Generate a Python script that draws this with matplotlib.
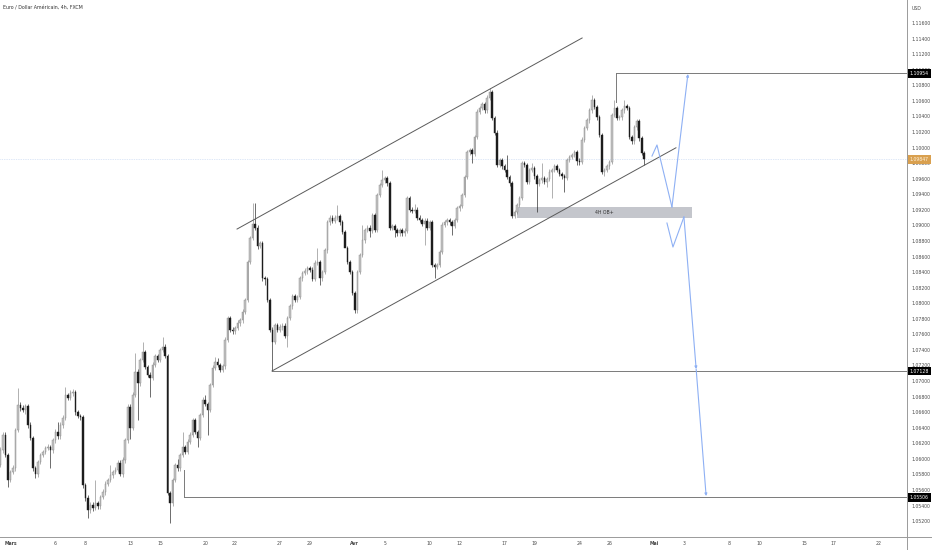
import numpy as np
import matplotlib.pyplot as plt
from matplotlib.lines import Line2D
from matplotlib.patches import Rectangle

title = "Euro / Dollar Américain, 4h, FXCM"

# 4h candles, first one opens at first_open, every next opens at previous close
first_open = 1.05921
closes = [
    1.06114, 1.06306, 1.06049, 1.05728, 1.05831, 1.05882, 1.06371, 1.06692, 1.06653, 1.06628,
    1.06679, 1.06435, 1.06268, 1.05882, 1.05805, 1.05959, 1.06049, 1.06088, 1.06139, 1.06152,
    1.06114, 1.06242, 1.06345, 1.06293, 1.06435, 1.06525, 1.06820, 1.06782, 1.06846, 1.06859,
    1.06602, 1.06550, 1.06538, 1.05664, 1.05497, 1.05343, 1.05407, 1.05368, 1.05432, 1.05394,
    1.05510, 1.05574, 1.05677, 1.05728, 1.05792, 1.05831, 1.05857, 1.05946, 1.05805, 1.05985,
    1.06242, 1.06666, 1.06396, 1.06820, 1.07116, 1.06974, 1.07270, 1.07373, 1.07180, 1.07077,
    1.07039, 1.07206, 1.07321, 1.07270, 1.07399, 1.07437, 1.07321, 1.05561, 1.05432, 1.05728,
    1.05921, 1.05882, 1.06049, 1.06152, 1.06088, 1.06216, 1.06306, 1.06499, 1.06345, 1.06268,
    1.06563, 1.06756, 1.06705, 1.06628, 1.06949, 1.07167, 1.07244, 1.07206, 1.07142, 1.07193,
    1.07527, 1.07810, 1.07656, 1.07643, 1.07681, 1.07745, 1.07784, 1.07887, 1.08041, 1.08529,
    1.08838, 1.09018, 1.08966, 1.08735, 1.08773, 1.08324, 1.08311, 1.08041, 1.07656, 1.07501,
    1.07720, 1.07656, 1.07694, 1.07707, 1.07578, 1.07810, 1.07964, 1.08092, 1.08041, 1.08079,
    1.08324, 1.08388, 1.08414, 1.08452, 1.08427, 1.08311, 1.08516, 1.08529, 1.08324, 1.08401,
    1.08684, 1.09043, 1.09095, 1.09056, 1.09095, 1.09120, 1.09043, 1.08915, 1.08709, 1.08529,
    1.08401, 1.08131, 1.07913, 1.08401, 1.08619, 1.08812, 1.08941, 1.08966, 1.08928, 1.09133,
    1.08941, 1.09390, 1.09519, 1.09583, 1.09609, 1.09544, 1.08966, 1.08992, 1.08941, 1.08902,
    1.08941, 1.08902, 1.08928, 1.09352, 1.09198, 1.09185, 1.09198, 1.09095, 1.09069, 1.09018,
    1.09056, 1.08966, 1.09043, 1.08491, 1.08465, 1.08491, 1.08658, 1.09005, 1.09043, 1.09069,
    1.09043, 1.08992, 1.09069, 1.09223, 1.09249, 1.09390, 1.09622, 1.09943, 1.09969, 1.09917,
    1.10136, 1.10457, 1.10508, 1.10560, 1.10483, 1.10637, 1.10714, 1.10380, 1.10187, 1.09776,
    1.09840, 1.09763, 1.09712, 1.09622, 1.09544, 1.09120, 1.09172, 1.09262, 1.09352, 1.09801,
    1.09776, 1.09557, 1.09712, 1.09737, 1.09634, 1.09532, 1.09583, 1.09609, 1.09557, 1.09596,
    1.09686, 1.09712, 1.09763, 1.09712, 1.09660, 1.09634, 1.09609, 1.09840, 1.09879, 1.09904,
    1.09943, 1.09827, 1.09814, 1.10097, 1.10251, 1.10354, 1.10483, 1.10611, 1.10521, 1.10393,
    1.10161, 1.09686, 1.09712, 1.09763, 1.09814, 1.10418, 1.10508, 1.10380, 1.10393, 1.10483,
    1.10534, 1.10508, 1.10136, 1.10084, 1.10264, 1.10341, 1.10123, 1.09930, 1.09847,
]
highs = [
    1.0615, 1.0634, 1.0634, 1.0608, 1.0586, 1.0592, 1.0640, 1.0691, 1.0673, 1.0669,
    1.0671, 1.0671, 1.0647, 1.0630, 1.0591, 1.0599, 1.0608, 1.0612, 1.0617, 1.0619,
    1.0618, 1.0627, 1.0638, 1.0647, 1.0647, 1.0656, 1.0692, 1.0685, 1.0688, 1.0690,
    1.0689, 1.0663, 1.0658, 1.0657, 1.0569, 1.0553, 1.0544, 1.0544, 1.0573, 1.0546,
    1.0554, 1.0561, 1.0571, 1.0576, 1.0592, 1.0586, 1.0589, 1.0598, 1.0598, 1.0602,
    1.0627, 1.0670, 1.0670, 1.0686, 1.0736, 1.0715, 1.0730, 1.0750, 1.0740, 1.0721,
    1.0711, 1.0724, 1.0735, 1.0735, 1.0743, 1.0757, 1.0747, 1.0735, 1.0559, 1.0576,
    1.0595, 1.0600, 1.0608, 1.0634, 1.0618, 1.0625, 1.0634, 1.0653, 1.0653, 1.0637,
    1.0659, 1.0679, 1.0682, 1.0673, 1.0698, 1.0720, 1.0731, 1.0729, 1.0723, 1.0722,
    1.0756, 1.0784, 1.0784, 1.0769, 1.0771, 1.0778, 1.0781, 1.0792, 1.0807, 1.0856,
    1.0887, 1.0929, 1.0929, 1.0900, 1.0880, 1.0880, 1.0835, 1.0834, 1.0807, 1.0769,
    1.0775, 1.0775, 1.0773, 1.0774, 1.0774, 1.0784, 1.0799, 1.0812, 1.0812, 1.0811,
    1.0835, 1.0842, 1.0845, 1.0848, 1.0848, 1.0846, 1.0855, 1.0871, 1.0856, 1.0843,
    1.0871, 1.0907, 1.0913, 1.0913, 1.0913, 1.0926, 1.0915, 1.0907, 1.0894, 1.0874,
    1.0856, 1.0843, 1.0816, 1.0843, 1.0865, 1.0900, 1.0897, 1.0900, 1.0900, 1.0916,
    1.0916, 1.0942, 1.0955, 1.0971, 1.0964, 1.0964, 1.0957, 1.0902, 1.0902, 1.0897,
    1.0897, 1.0897, 1.0896, 1.0938, 1.0938, 1.0923, 1.0927, 1.0923, 1.0913, 1.0910,
    1.0909, 1.0909, 1.0907, 1.0907, 1.0852, 1.0852, 1.0869, 1.0904, 1.0907, 1.0910,
    1.0910, 1.0907, 1.0910, 1.0925, 1.0928, 1.0942, 1.0965, 1.0997, 1.1000, 1.1000,
    1.1016, 1.1049, 1.1054, 1.1059, 1.1059, 1.1067, 1.1077, 1.1074, 1.1041, 1.1022,
    1.0987, 1.0987, 1.0979, 1.0990, 1.0965, 1.0957, 1.0920, 1.0929, 1.0938, 1.0983,
    1.0983, 1.0980, 1.0974, 1.0980, 1.0976, 1.0966, 1.0961, 1.0980, 1.0964, 1.0962,
    1.0972, 1.0974, 1.0979, 1.0979, 1.0974, 1.0969, 1.0966, 1.0987, 1.0991, 1.0993,
    1.0997, 1.0997, 1.0986, 1.1013, 1.1028, 1.1038, 1.1051, 1.1068, 1.1064, 1.1055,
    1.1042, 1.1019, 1.0974, 1.0979, 1.0984, 1.1045, 1.1061, 1.1054, 1.1042, 1.1051,
    1.1061, 1.1056, 1.1054, 1.1016, 1.1029, 1.1037, 1.1037, 1.1015, 1.0996,
]
lows = [
    1.0589, 1.0608, 1.0602, 1.0564, 1.0570, 1.0580, 1.0585, 1.0634, 1.0662, 1.0660,
    1.0658, 1.0640, 1.0624, 1.0585, 1.0575, 1.0577, 1.0593, 1.0602, 1.0606, 1.0611,
    1.0588, 1.0608, 1.0621, 1.0626, 1.0626, 1.0640, 1.0650, 1.0675, 1.0675, 1.0681,
    1.0657, 1.0652, 1.0650, 1.0563, 1.0546, 1.0524, 1.0531, 1.0533, 1.0534, 1.0536,
    1.0536, 1.0548, 1.0554, 1.0565, 1.0570, 1.0576, 1.0580, 1.0583, 1.0578, 1.0577,
    1.0595, 1.0621, 1.0626, 1.0637, 1.0679, 1.0650, 1.0694, 1.0724, 1.0715, 1.0705,
    1.0680, 1.0701, 1.0718, 1.0724, 1.0724, 1.0737, 1.0729, 1.0553, 1.0518, 1.0540,
    1.0570, 1.0585, 1.0585, 1.0602, 1.0606, 1.0606, 1.0619, 1.0628, 1.0632, 1.0615,
    1.0624, 1.0654, 1.0668, 1.0631, 1.0660, 1.0692, 1.0714, 1.0718, 1.0711, 1.0711,
    1.0716, 1.0750, 1.0763, 1.0761, 1.0761, 1.0765, 1.0771, 1.0775, 1.0786, 1.0801,
    1.0850, 1.0881, 1.0894, 1.0870, 1.0871, 1.0829, 1.0823, 1.0801, 1.0763, 1.0713,
    1.0747, 1.0763, 1.0763, 1.0766, 1.0755, 1.0744, 1.0778, 1.0793, 1.0801, 1.0801,
    1.0805, 1.0829, 1.0836, 1.0838, 1.0840, 1.0828, 1.0828, 1.0849, 1.0823, 1.0829,
    1.0837, 1.0865, 1.0901, 1.0903, 1.0903, 1.0907, 1.0901, 1.0889, 1.0872, 1.0850,
    1.0837, 1.0810, 1.0787, 1.0788, 1.0837, 1.0859, 1.0878, 1.0891, 1.0885, 1.0890,
    1.0891, 1.0891, 1.0936, 1.0949, 1.0955, 1.0951, 1.0894, 1.0894, 1.0885, 1.0887,
    1.0887, 1.0887, 1.0887, 1.0890, 1.0917, 1.0916, 1.0916, 1.0907, 1.0904, 1.0899,
    1.0875, 1.0894, 1.0894, 1.0846, 1.0832, 1.0844, 1.0846, 1.0863, 1.0898, 1.0901,
    1.0901, 1.0888, 1.0896, 1.0904, 1.0919, 1.0922, 1.0936, 1.0959, 1.0991, 1.0980,
    1.0989, 1.1011, 1.1043, 1.1048, 1.1045, 1.1045, 1.1061, 1.1035, 1.1016, 1.0975,
    1.0975, 1.0973, 1.0968, 1.0959, 1.0951, 1.0909, 1.0909, 1.0914, 1.0923, 1.0932,
    1.0975, 1.0953, 1.0953, 1.0968, 1.0960, 1.0917, 1.0950, 1.0955, 1.0953, 1.0949,
    1.0957, 1.0935, 1.0968, 1.0968, 1.0963, 1.0960, 1.0943, 1.0958, 1.0981, 1.0985,
    1.0988, 1.0978, 1.0978, 1.0979, 1.1007, 1.1022, 1.1032, 1.1045, 1.1049, 1.1036,
    1.1013, 1.0966, 1.0963, 1.0968, 1.0973, 1.0979, 1.1039, 1.1035, 1.1035, 1.1036,
    1.1045, 1.1048, 1.1011, 1.1005, 1.1005, 1.1023, 1.1009, 1.0990, 1.0978,
]

# date axis (6 bars per trading day, first bar = 1 March)
tick_dates = ["2023-03-01", "2023-03-06", "2023-03-08", "2023-03-13", "2023-03-15",
              "2023-03-20", "2023-03-22", "2023-03-27", "2023-03-29", "2023-04-03",
              "2023-04-05", "2023-04-10", "2023-04-12", "2023-04-17", "2023-04-19",
              "2023-04-24", "2023-04-26", "2023-05-01", "2023-05-03", "2023-05-08",
              "2023-05-10", "2023-05-15", "2023-05-17", "2023-05-22"]
tick_labels = ["Mars", "6", "8", "13", "15", "20", "22", "27", "29", "Avr", "5", "10",
               "12", "17", "19", "24", "26", "Mai", "3", "8", "10", "15", "17", "22"]
month_labels = ["Mars", "Avr", "Mai"]

y_ticks = np.arange(1.052, 1.1161, 0.002)
last_price = 1.09847

# drawings (bar index, price)
levels = [1.10954, 1.07128, 1.05506]
level_start = [246.7, 108.8, 73.5]
level_stub_end = [1.1058, None, 1.05857]
upper_channel = ([94.8, 233.1], [1.08953, 1.11408])
lower_channel = ([108.8, 270.7], [1.07129, 1.09997])
ob_x = (207.0, 277.2)
ob_y = (1.09095, 1.09236)
path_up = ([261.1, 263.1, 269.1, 275.5], [1.09891, 1.10033, 1.09236, 1.10945])
path_down = ([267.1, 269.5, 273.9, 278.8, 282.8], [1.09030, 1.08722, 1.09108, 1.07154, 1.05522])

W, H = 932, 550
fig = plt.figure(figsize=(W / 100, H / 100), dpi=100)
ax = fig.add_axes([0, 13 / H, 907 / W, 537 / H])

opens = [first_open] + closes[:-1]
x = np.arange(len(closes))
o = np.array(opens)
c = np.array(closes)
up = c >= o

up_face, up_edge, down_col = "#c4c4c4", "#858585", "#1c1c1c"
ax.vlines(x[up], np.array(lows)[up], np.array(highs)[up], color=up_edge, lw=0.45, zorder=2)
ax.vlines(x[~up], np.array(lows)[~up], np.array(highs)[~up], color=down_col, lw=0.45, zorder=2)
ax.bar(x[up], (c - o)[up], bottom=o[up], width=0.62, color=up_face,
       edgecolor=up_edge, linewidth=0.3, zorder=3)
ax.bar(x[~up], (c - o)[~up], bottom=o[~up], width=0.62, color=down_col,
       edgecolor=down_col, linewidth=0.3, zorder=3)

ax.set_xlim(-0.2, 363.3)
ax.set_ylim(1.04996, 1.11896)

# current price dotted line
ax.axhline(last_price, color="#bcd0f0", lw=0.5, ls=(0, (1, 1.5)), zorder=1)

# levels
for p, xs, stub in zip(levels, level_start, level_stub_end):
    ax.plot([xs, 363.3], [p, p], color="#7a7a7a", lw=0.7, zorder=4)
    if stub is not None:
        ax.plot([xs, xs], [p, stub], color="#7a7a7a", lw=0.7, zorder=4)

# channel
ax.plot(*upper_channel, color="#5a5a5a", lw=0.7, zorder=4)
ax.plot(*lower_channel, color="#5a5a5a", lw=0.7, zorder=4)

# order block
ax.add_patch(Rectangle((ob_x[0], ob_y[0]), ob_x[1] - ob_x[0], ob_y[1] - ob_y[0],
                       facecolor="#c4c6cc", edgecolor="none", zorder=1))
ax.text((ob_x[0] + ob_x[1]) / 2, (ob_y[0] + ob_y[1]) / 2, "4H OB+",
        fontsize=3.3, color="#333333", ha="center", va="center", zorder=5)

# projected paths
blue = "#8eb0f4"
arrow = dict(arrowstyle="-|>", color=blue, lw=0.8, shrinkA=0, shrinkB=0,
             mutation_scale=3.5)
ax.plot(path_up[0][:-1], path_up[1][:-1], color=blue, lw=0.8, zorder=5)
ax.annotate("", xy=(path_up[0][-1], path_up[1][-1]),
            xytext=(path_up[0][-2], path_up[1][-2]), arrowprops=arrow, zorder=5)
ax.plot(path_down[0][:-2], path_down[1][:-2], color=blue, lw=0.8, zorder=5)
for k in (-2, -1):
    ax.annotate("", xy=(path_down[0][k], path_down[1][k]),
                xytext=(path_down[0][k - 1], path_down[1][k - 1]),
                arrowprops=arrow, zorder=5)

# axes look
for s in ax.spines.values():
    s.set_visible(False)
ax.yaxis.tick_right()
ax.set_yticks(y_ticks)
ax.set_yticklabels([f"{v:.5f}" for v in y_ticks])
ax.tick_params(axis="y", length=0, pad=3, labelsize=3.3, labelcolor="#4a4a4a")

tick_x = 4 + 6 * np.busday_count("2023-03-01", tick_dates)
ax.set_xticks(tick_x)
ax.set_xticklabels(tick_labels)
ax.tick_params(axis="x", length=0, pad=3, labelsize=3.3, labelcolor="#4a4a4a")
for lab in ax.get_xticklabels():
    if lab.get_text() in month_labels:
        lab.set_fontweight("bold")

# price tags on the scale
ytr = ax.get_yaxis_transform()
for p in levels:
    ax.text(1.003, p, f"{p:.5f}", transform=ytr, fontsize=3.3, color="white",
            ha="left", va="center", clip_on=False, zorder=10,
            bbox=dict(boxstyle="square,pad=0.4", fc="black", ec="none"))
ax.text(1.003, last_price, f"{last_price:.5f}", transform=ytr, fontsize=3.3,
        color="#fff4e0", ha="left", va="center", clip_on=False, zorder=10,
        bbox=dict(boxstyle="square,pad=0.4", fc="#d9a04f", ec="none"))

fig.add_artist(Line2D([907 / W, 907 / W], [0, 1], transform=fig.transFigure,
                      color="#9a9a9a", lw=0.7))
fig.add_artist(Line2D([0, 1], [13 / H, 13 / H], transform=fig.transFigure,
                      color="#9a9a9a", lw=0.7))

fig.text(3 / W, 1 - 8 / H, title, fontsize=3.4, color="#333333", va="center")
fig.text(912 / W, 1 - 8 / H, "USD", fontsize=3.3, color="#4a4a4a", va="center")

fig.savefig("out.png", dpi=100)
